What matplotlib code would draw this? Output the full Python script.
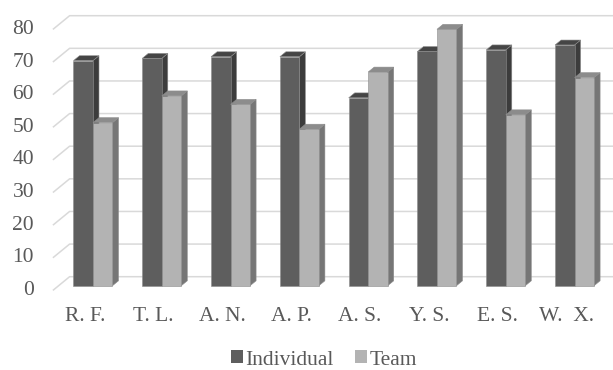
import matplotlib
matplotlib.use("Agg")
import matplotlib.pyplot as plt
from matplotlib import font_manager
from matplotlib.patches import Polygon, Patch

# Scores per person
categories = ["R. F.", "T. L.", "A. N.", "A. P.", "A. S.", "Y. S.", "E. S.", "W.  X."]
individual = [69.0, 69.7, 70.2, 70.2, 57.6, 71.8, 72.3, 73.8]
team = [50.0, 58.2, 55.6, 48.0, 65.5, 78.6, 52.4, 63.8]
y_ticks = [0, 10, 20, 30, 40, 50, 60, 70, 80]
series_names = ["Individual", "Team"]

# Times-like serif face
serif_path = font_manager.findfont(
    font_manager.FontProperties(family="Liberation Serif"), fallback_to_default=False)
plt.rcParams["font.family"] = "serif"
plt.rcParams["font.serif"] = ["Liberation Serif", "DejaVu Serif"]
TEXT = "#595959"
GRID = "#d9d9d9"

W, H = 613, 370
fig = plt.figure(figsize=(W / 100, H / 100), dpi=100)
ax = fig.add_axes([0, 0, 1, 1])
ax.axis("off")

# Back-wall placement of the category/value axes (pixels)
wall_left_px, cat_px = 69.6, 68.8
zero_px, unit_px = 276.7, 3.2625
ax.set_xlim(-0.5 - wall_left_px / cat_px, -0.5 + (W - wall_left_px) / cat_px)
ax.set_ylim(-(H - zero_px) / unit_px, zero_px / unit_px)

# Oblique depth vector (back wall -> front of floor) in data units
DX = -16.7 / cat_px
DY = -13.7 / unit_px
F_FRONT, F_BACK = 0.66, 0.30
BAR_W = 19.5 / cat_px

# Gridlines on the back wall and the left side wall
right_edge = ax.get_xlim()[1] + 1
for t in y_ticks:
    ax.plot([-0.5 + DX, -0.5, right_edge], [t + DY, t, t],
            color=GRID, lw=1.1, zorder=1, solid_capstyle="butt")
    ax.text(-0.5 + DX - 0.273, t + DY, f"{t}", ha="right", va="center",
            fontsize=15.5, color=TEXT)

def draw_bar(x0, v, front, side, top, z):
    fx, fy = DX * F_FRONT, DY * F_FRONT
    bx, by = DX * F_BACK, DY * F_BACK
    x1 = x0 + BAR_W
    faces = [
        ([(x1 + fx, fy), (x1 + bx, by), (x1 + bx, v + by), (x1 + fx, v + fy)], side),
        ([(x0 + fx, v + fy), (x1 + fx, v + fy), (x1 + bx, v + by), (x0 + bx, v + by)], top),
        ([(x0 + fx, fy), (x1 + fx, fy), (x1 + fx, v + fy), (x0 + fx, v + fy)], front),
    ]
    for pts, col in faces:
        ax.add_patch(Polygon(pts, closed=True, facecolor=col, edgecolor="#8c8c8c",
                             lw=0.4, zorder=z, joinstyle="miter"))

IND = ("#5e5e5e", "#3c3c3c", "#454545")
TEAM = ("#b3b3b3", "#767676", "#8c8c8c")

for i, (a, b) in enumerate(zip(individual, team)):
    draw_bar(i - BAR_W, a, *IND, z=3 + 2 * i)
    draw_bar(i, b, *TEAM, z=4 + 2 * i)

# Category labels along the front edge of the floor
label_y = -(316.7 - zero_px) / unit_px
for i, name in enumerate(categories):
    ax.text(i + DX * 1.15, label_y, name, ha="center", va="center",
            fontsize=15.5, color=TEXT)

handles = [Patch(facecolor=IND[0], edgecolor="none"),
           Patch(facecolor=TEAM[0], edgecolor="none")]
fig.legend(handles, series_names, loc="center", bbox_to_anchor=(0.5286, 1 - 360 / H),
           ncol=2, frameon=False, fontsize=15.5, labelcolor=TEXT,
           handlelength=0.55, handleheight=0.55, handletextpad=0.1,
           columnspacing=1.0, borderpad=0, borderaxespad=0)

fig.savefig("out.png", dpi=100)
